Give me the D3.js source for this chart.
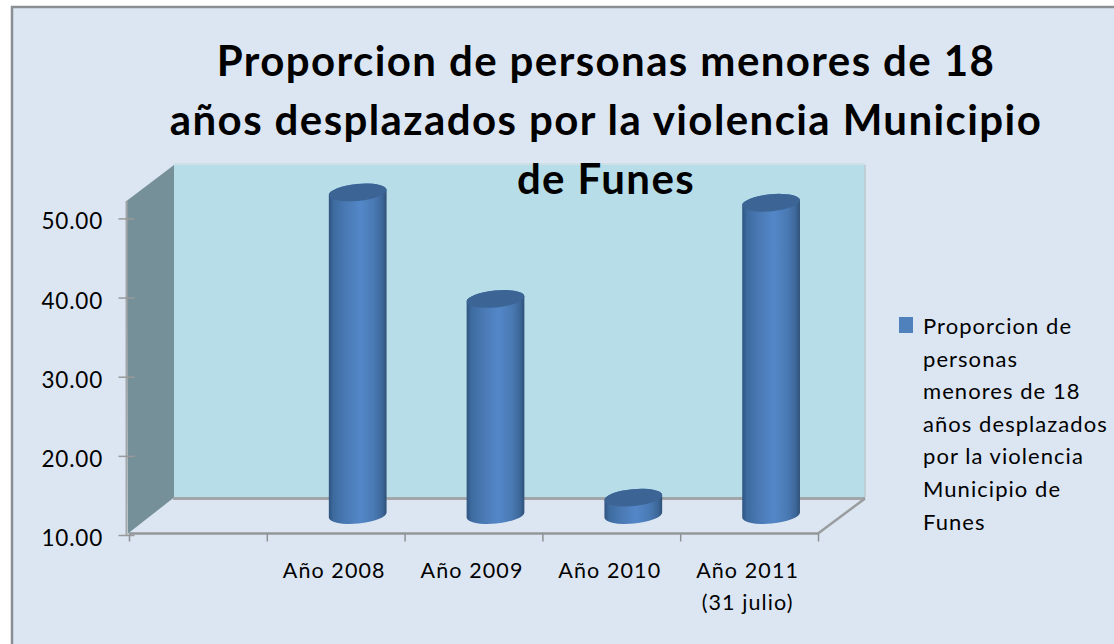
<!DOCTYPE html>
<html><head><meta charset="utf-8">
<script src="https://cdn.jsdelivr.net/npm/d3@7/dist/d3.min.js"></script>
<style>html,body{margin:0;padding:0;background:#fff}svg{display:block}text{font-family:Lato,"Open Sans",sans-serif;fill:#000}</style>
</head><body><svg id="c" width="1114" height="644"></svg>
<script>
const titleLines = ["Proporcion de personas menores de 18","años desplazados por la violencia Municipio","de Funes"];
const categories = ["", "Año 2008", "Año 2009", "Año 2010", "Año 2011\n(31 julio)"];
const barCategories = ["Año 2008", "Año 2009", "Año 2010", "Año 2011\n(31 julio)"];
const barValues = [50.75, 37.3, 12.2, 49.45];
const yTicks = [10, 20, 30, 40, 50];
const legendLines = ["Proporcion de","personas","menores de 18","años desplazados","por la violencia","Municipio de","Funes"];

const W=1114,H=644;
const svg=d3.select("#c");
const defs=svg.append("defs");
const grad=defs.append("linearGradient").attr("id","cyl").attr("x1",0).attr("x2",1).attr("y1",0).attr("y2",0);
[[0,"#2f5480"],[0.08,"#3d6b9f"],[0.3,"#4a7ab5"],[0.55,"#5387c8"],[0.78,"#4a7ab4"],[0.93,"#3c6698"],[1,"#2f5075"]]
 .forEach(d=>grad.append("stop").attr("offset",d[0]).attr("stop-color",d[1]));

svg.append("rect").attr("x",12).attr("y",7).attr("width",W+20).attr("height",H+20)
  .attr("fill","#dce6f2").attr("stroke","#8b8f93").attr("stroke-width",2.5);

const x0=129,x1=818,yBase=535,yTop=201;
const y=d3.scaleLinear().domain([10,52.2]).range([yBase,yTop]);
const xBand=d3.scaleBand().domain(categories).range([x0,x1]).padding(0);
const xEdge=d3.scaleLinear().domain([0,categories.length]).range([x0,x1]);
const depthX=46,depthY=-36;
const floorY=yBase-1.5;

// walls
const pts=a=>a.map(p=>p.join(",")).join(" ");
svg.append("polygon").attr("points",pts([[x0+depthX-1,yTop+depthY],[x1+depthX+1,yTop+depthY],[x1+depthX+1,floorY+depthY],[x0+depthX-1,floorY+depthY]]))
  .attr("fill","#b7dde8");
svg.append("line").attr("x1",x0+depthX-1).attr("x2",x1+depthX+1).attr("y1",yTop+depthY-1).attr("y2",yTop+depthY-1).attr("stroke","#cfdfe6").attr("stroke-width",2);
svg.append("line").attr("x1",x1+depthX+1).attr("x2",x1+depthX+1).attr("y1",yTop+depthY).attr("y2",floorY+depthY).attr("stroke","#bcc8cf").attr("stroke-width",1.5);
svg.append("polygon").attr("points",pts([[x0-2.5,yTop],[x0+depthX-1,yTop+depthY],[x0+depthX-1,floorY+depthY],[x0-1,floorY]]))
  .attr("fill","#76909a");
svg.append("line").attr("x1",x0+depthX-2).attr("x2",x1+depthX+1).attr("y1",floorY+depthY+1).attr("y2",floorY+depthY+1).attr("stroke","#a3a6a8").attr("stroke-width",3);
svg.append("line").attr("x1",x1).attr("x2",x1+depthX+1).attr("y1",floorY).attr("y2",floorY+depthY+1).attr("stroke","#9a9d9f").attr("stroke-width",2.5);
svg.append("line").attr("x1",x0).attr("x2",x1).attr("y1",floorY).attr("y2",floorY).attr("stroke","#94979a").attr("stroke-width",2.5);
svg.append("line").attr("x1",x0-2.5).attr("x2",x0-2.5).attr("y1",yTop).attr("y2",yBase).attr("stroke","#a3a6a8").attr("stroke-width",2);

// axes
const yAxis=svg.append("g").attr("transform",`translate(${x0-2.5},0)`)
  .call(d3.axisLeft(y).tickValues(yTicks).tickFormat(d3.format(".2f")).tickSize(8).tickPadding(15.5));
yAxis.select(".domain").remove();
yAxis.selectAll(".tick line").attr("x1",8).attr("stroke","#999").attr("stroke-width",1.5);
yAxis.selectAll(".tick text").style("font-size","22.5px").style("letter-spacing","0.8px").attr("dy","0.47em");

const xTicks=svg.append("g").attr("transform",`translate(0,${floorY})`)
  .call(d3.axisBottom(xEdge).tickValues(d3.range(categories.length+1)).tickFormat("").tickSize(8));
xTicks.select(".domain").remove();
xTicks.selectAll(".tick line").attr("stroke","#8f9295").attr("stroke-width",1.5);

const xLabels=svg.append("g").attr("transform",`translate(-1.5,${floorY})`)
  .call(d3.axisBottom(xBand).tickSize(0).tickFormat(""));
xLabels.select(".domain").remove();
xLabels.selectAll(".tick text").remove();
xLabels.selectAll(".tick").append("text").attr("text-anchor","middle").style("font-size","21.5px").style("letter-spacing","1.1px")
  .each(function(d){
    d3.select(this).selectAll("tspan").data(d.split("\n")).join("tspan")
      .attr("x",0).attr("y",(s,i)=>44.5+i*32).text(s=>s);
  });

// cylinders
const tilt=-5.5,rx=29,ry=8.5;
const barOffX=22,barOffY=-20;
const sinT=Math.sin(tilt*Math.PI/180),cosT=Math.cos(tilt*Math.PI/180);
const bars=svg.append("g").selectAll("g").data(barCategories.map((c,i)=>({c,v:barValues[i]}))).join("g");
bars.each(function(d){
  const cx=xBand(d.c)+xBand.bandwidth()/2+barOffX;
  const yb=y(10)+barOffY, yt=y(d.v)+barOffY;
  const dx=rx*cosT, dy=rx*sinT;
  const g=d3.select(this);
  g.append("path").attr("fill","url(#cyl)")
    .attr("d",`M${cx-dx},${yt-dy}L${cx-dx},${yb-dy}A${rx},${ry} ${tilt} 0 0 ${cx+dx},${yb+dy}L${cx+dx},${yt+dy}A${rx},${ry} ${tilt} 0 0 ${cx-dx},${yt-dy}Z`);
  g.append("ellipse").attr("rx",rx).attr("ry",ry).attr("fill","#3c6596")
    .attr("transform",`translate(${cx},${yt}) rotate(${tilt})`);
});

// title
svg.append("g").selectAll("text").data(titleLines).join("text")
  .attr("x",606).attr("y",(d,i)=>76+i*59).attr("text-anchor","middle")
  .style("font-size","42px").style("letter-spacing","1.4px").style("font-weight",700).text(d=>d);

// legend
svg.append("rect").attr("x",899).attr("y",317).attr("width",14).attr("height",16).attr("fill","#4f81bd");
svg.append("g").selectAll("text").data(legendLines).join("text")
  .attr("x",923).attr("y",(d,i)=>334+i*32.6).style("font-size","22px").style("letter-spacing","1.05px").text(d=>d);
</script></body></html>
